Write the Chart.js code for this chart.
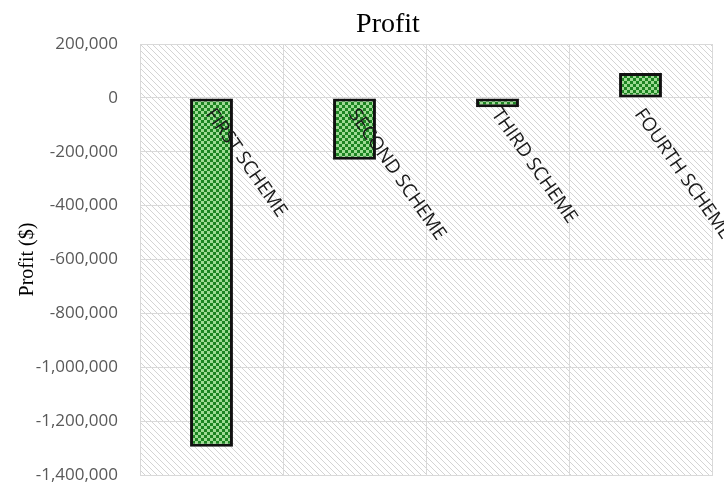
<!DOCTYPE html>
<html>
<head>
<meta charset="utf-8">
<script src="https://cdn.jsdelivr.net/npm/chart.js@4.4.1/dist/chart.umd.min.js"></script>
<style>
  html, body { margin: 0; padding: 0; background: #fff; overflow: hidden; }
  canvas { display: block; }
</style>
</head>
<body>
<canvas id="myChart" width="724" height="488"></canvas>
<script>
const categories = ["FIRST SCHEME", "SECOND SCHEME", "THIRD SCHEME", "FOURTH SCHEME"];
const profits = [-1295000, -230000, -35000, 92000];
const yMin = -1400000;
const yMax = 200000;
const yStep = 200000;

// little tiles for the excel style fills
function makePattern(size, paint) {
    const c = document.createElement("canvas");
    c.width = size; c.height = size;
    paint(c.getContext("2d"), size);
    return c.getContext("2d").createPattern(c, "repeat");
}

const hatch = makePattern(6, (g, s) => {
    g.fillStyle = "#ffffff";
    g.fillRect(0, 0, s, s);
    g.strokeStyle = "#d4d4d4";
    g.lineWidth = 1;
    g.beginPath();
    for (let k = -1; k <= 1; k++) {
        g.moveTo(k * s - 1, -1);
        g.lineTo(k * s + s + 1, s + 1);
    }
    g.stroke();
});

const checker = makePattern(6, (g, s) => {
    g.fillStyle = "#1c8421";
    g.fillRect(0, 0, s, s);
    g.fillStyle = "#9edb94";
    g.fillRect(0, 0, 3, 3);
    g.fillRect(3, 3, 3, 3);
});

// hatched plot area + title + slanted category labels
const excelBits = {
    id: "excelBits",
    beforeDraw(chart) {
        // hatch has to sit under the grid lines
        const { ctx, chartArea: a } = chart;
        ctx.save();
        ctx.fillStyle = hatch;
        ctx.fillRect(a.left, a.top, a.right - a.left, a.bottom - a.top);
        ctx.restore();
    },
    afterDatasetsDraw(chart) {
        const { ctx } = chart;
        const x = chart.scales.x, y = chart.scales.y;
        const zeroY = y.getPixelForValue(0);
        ctx.save();
        ctx.font = "19px 'Open Sans'";
        ctx.fillStyle = "#1a1a1a";
        ctx.textAlign = "left";
        ctx.textBaseline = "middle";
        categories.forEach((lab, i) => {
            ctx.save();
            ctx.translate(x.getPixelForValue(i) - 2, zeroY + 13);
            ctx.rotate(55 * Math.PI / 180);
            ctx.fillText(lab, 0, 0);
            ctx.restore();
        });
        ctx.font = "28px 'Liberation Serif'";
        ctx.fillStyle = "#000";
        ctx.textAlign = "center";
        ctx.textBaseline = "alphabetic";
        ctx.fillText("Profit", 388, 32);
        ctx.restore();
    }
};

const ctx = document.getElementById("myChart");
const myChart = new Chart(ctx, {
    type: "bar",
    data: {
        labels: categories,
        datasets: [{
            data: profits,
            backgroundColor: checker,
            borderColor: "#111",
            borderWidth: 3,
            borderSkipped: false,
            categoryPercentage: 1,
            barPercentage: 0.3,
        }]
    },
    options: {
        responsive: false,
        animation: false,
        devicePixelRatio: 1,
        layout: {
            padding: { left: 12, right: 12, top: 44, bottom: 13 }
        },
        plugins: {
            legend: { display: false },
            tooltip: { enabled: false },
            title: { display: false },
        },
        scales: {
            x: {
                ticks: { display: false },
                grid: { color: "#d9d9d9", offset: true, drawTicks: false },
                border: { color: "#d9d9d9" },
                afterFit: s => { s.height = 0; },
            },
            y: {
                min: yMin,
                max: yMax,
                ticks: {
                    stepSize: yStep,
                    padding: 1,
                    color: "#595959",
                    font: { family: "'Open Sans'", size: 17 },
                    callback: v => v.toLocaleString("en-US"),
                },
                grid: { color: "#d9d9d9", tickLength: 21, tickColor: "rgba(0,0,0,0)" },
                border: { color: "#d9d9d9" },
                title: {
                    display: true,
                    text: "Profit ($)",
                    color: "#000",
                    font: { family: "'Liberation Serif'", size: 20 },
                    padding: { top: 4, bottom: 4 },
                },
                afterFit: s => { s.width = 128; },
            }
        }
    },
    plugins: [excelBits]
});
</script>
</body>
</html>
